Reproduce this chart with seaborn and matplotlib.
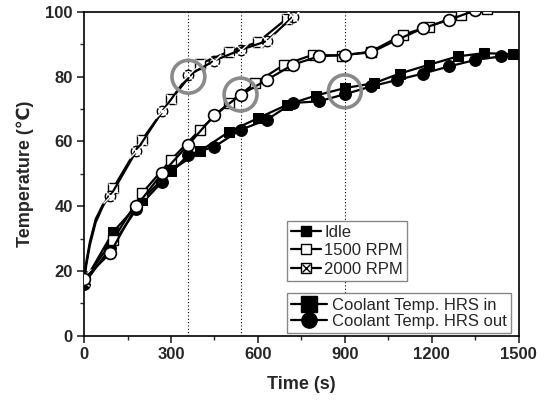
import matplotlib
matplotlib.use("Agg")
import matplotlib.pyplot as plt
import seaborn as sns
import numpy as np
from matplotlib.lines import Line2D
from matplotlib.ticker import MultipleLocator

sns.set_theme(style="white")
plt.rcParams['font.family'] = ['Liberation Sans', 'DejaVu Sans']

# ---- data ----
idle_in_t = [0, 100, 200, 300, 400, 500, 600, 700, 800, 900, 1000, 1090, 1190, 1290, 1380, 1480]
idle_in_T = [16.5, 32, 42, 51, 57, 63, 67.2, 71.3, 74.2, 76.5, 78, 81, 83.7, 86.3, 87.3, 87]
idle_out_t = [0, 90, 180, 270, 360, 450, 540, 630, 720, 810, 900, 990, 1080, 1170, 1260, 1350, 1440]
idle_out_T = [16, 27, 39, 47.6, 55.9, 58.4, 63.6, 66.7, 71.9, 72.4, 74.6, 77, 79, 81, 83.2, 85.2, 86.3]

r1500_in_t = [0, 100, 200, 300, 400, 500, 590, 690, 790, 890, 990, 1100, 1190, 1300, 1390]
r1500_in_T = [17, 29.6, 44, 54.3, 63.6, 71.9, 78, 83.7, 86.8, 86.5, 87.8, 93, 95.5, 99.2, 101]
r1500_out_t = [0, 90, 180, 270, 360, 450, 540, 630, 720, 810, 900, 990, 1080, 1170, 1260, 1350]
r1500_out_T = [17.5, 25.5, 40, 50.2, 59, 68.2, 74.4, 79, 83.7, 86.3, 86.8, 87.5, 91.4, 95, 97.6, 100.5]

r2000_in_t = [0, 8, 20, 40, 65, 100, 200, 300, 400, 500, 600, 700]
r2000_in_T = [17, 22, 28, 35, 40, 45.5, 60.5, 73, 84, 87.8, 90.7, 98]
r2000_in_marks = [0, 5, 6, 7, 8, 9, 10, 11]
r2000_out_t = [0, 8, 20, 40, 65, 90, 180, 270, 360, 450, 540, 630, 720]
r2000_out_T = [18.5, 23, 29, 36, 40.5, 43, 57, 69.3, 80.4, 85, 88.3, 91, 98.5]
r2000_out_marks = [0, 5, 6, 7, 8, 9, 10, 11, 12]

highlight_t = [360, 540, 900]
highlight_T = [80, 74.5, 75.5]

xticks = [0, 300, 600, 900, 1200, 1500]
yticks = [0, 20, 40, 60, 80, 100]

fig = plt.figure(figsize=(5.46, 4.01), dpi=100)
ax = fig.add_axes([0.154, 0.163, 0.796, 0.807])

for xv in highlight_t:
    ax.axvline(xv, color='black', linestyle=(0, (1, 2)), linewidth=0.8, zorder=1)

lw = 1.6
ms = 7.5
# Idle
sns.lineplot(x=idle_in_t, y=idle_in_T, ax=ax, color='black', lw=lw, marker='s',
             markersize=ms, mfc='black', mec='black', zorder=3, sort=False)
sns.lineplot(x=idle_out_t, y=idle_out_T, ax=ax, color='black', lw=lw, marker='o',
             markersize=ms + 1, mfc='black', mec='black', zorder=3, sort=False)
# 1500
sns.lineplot(x=r1500_in_t, y=r1500_in_T, ax=ax, color='black', lw=lw, marker='s',
             markersize=ms, mfc='white', mec='black', mew=1.0, zorder=4, sort=False)
sns.lineplot(x=r1500_out_t, y=r1500_out_T, ax=ax, color='black', lw=lw, marker='o',
             markersize=ms + 1, mfc='white', mec='black', mew=1.2, zorder=5, sort=False)
# 2000
sns.lineplot(x=r2000_in_t, y=r2000_in_T, ax=ax, color='black', lw=lw, marker='s',
             markersize=ms, mfc='white', mec='black', mew=1.0, markevery=r2000_in_marks,
             zorder=4, sort=False)
sns.lineplot(x=[r2000_in_t[i] for i in r2000_in_marks], y=[r2000_in_T[i] for i in r2000_in_marks],
             ax=ax, color='black', lw=0, marker='x', markersize=ms, mew=1.0, zorder=4, sort=False)
sns.lineplot(x=r2000_out_t, y=r2000_out_T, ax=ax, color='black', lw=lw, marker='o',
             markersize=ms, mfc='none', mec='black', mew=1.0, markevery=r2000_out_marks,
             zorder=4, sort=False)
sns.lineplot(x=[r2000_out_t[i] for i in r2000_out_marks], y=[r2000_out_T[i] for i in r2000_out_marks],
             ax=ax, color='black', lw=0, marker='x', markersize=ms + 3, mew=1.0, zorder=4, sort=False)

# grey highlight circles
ax.scatter(highlight_t, highlight_T, s=560, facecolors='none', edgecolors='#8a8a8a',
           linewidths=2.6, zorder=6, clip_on=False)

ax.set_xlim(0, 1500)
ax.set_ylim(0, 100)
ax.set_xticks(xticks)
ax.set_yticks(yticks)
ax.xaxis.set_minor_locator(MultipleLocator(150))
ax.yaxis.set_minor_locator(MultipleLocator(10))
ax.tick_params(axis='both', which='major', direction='out', length=5, width=1.2,
               labelsize=12, bottom=True, left=True, top=False, right=False, pad=3)
ax.tick_params(axis='both', which='minor', direction='out', length=3, width=1.0,
               bottom=True, left=True, top=False, right=False)
for lab in ax.get_xticklabels() + ax.get_yticklabels():
    lab.set_fontweight('bold')
for sp in ax.spines.values():
    sp.set_color('black')
    sp.set_linewidth(1.2)

ax.set_xlabel('Time (s)', fontsize=13, fontweight='bold', labelpad=10)
ax.set_ylabel('Temperature (\u2103)', fontsize=13, fontweight='bold', labelpad=8)

# legends
h_idle = Line2D([], [], color='black', lw=1.6, marker='s', markersize=7, mfc='black', mec='black')
h_1500 = Line2D([], [], color='black', lw=1.6, marker='s', markersize=7, mfc='white', mec='black')
h_2000a = Line2D([], [], color='black', lw=1.6, marker='s', markersize=7, mfc='white', mec='black')
h_2000b = Line2D([], [], color='black', lw=0, marker='x', markersize=6, mec='black', mew=1.0)
leg1 = ax.legend([h_idle, h_1500, (h_2000a, h_2000b)], ['Idle', '1500 RPM', '2000 RPM'],
                 loc='upper left', bbox_to_anchor=(0.466, 0.355), fontsize=12,
                 frameon=True, fancybox=False, edgecolor='#888888', framealpha=1,
                 handlelength=1.8, handletextpad=0.2, borderpad=0.25, labelspacing=0.2,
                 borderaxespad=0)
leg1.get_frame().set_linewidth(1.0)
ax.add_artist(leg1)

h_in = Line2D([], [], color='black', lw=1.6, marker='s', markersize=11, mfc='black', mec='black')
h_out = Line2D([], [], color='black', lw=1.6, marker='o', markersize=11, mfc='black', mec='black')
leg2 = ax.legend([h_in, h_out], ['Coolant Temp. HRS in', 'Coolant Temp. HRS out'],
                 loc='lower left', bbox_to_anchor=(0.466, 0.007), fontsize=12,
                 frameon=True, fancybox=False, edgecolor='#888888', framealpha=1,
                 handlelength=2.2, handletextpad=0.3, borderpad=0.25, labelspacing=0.1,
                 borderaxespad=0)
leg2.get_frame().set_linewidth(1.0)

fig.savefig('out.png', dpi=100)
